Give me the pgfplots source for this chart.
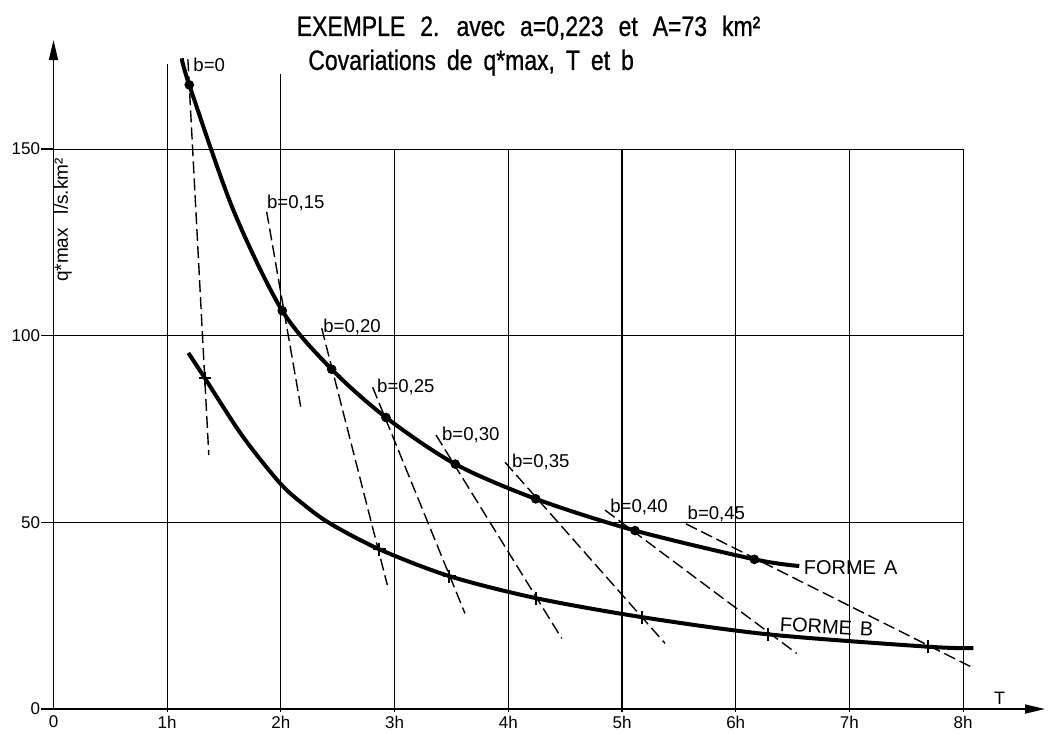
\documentclass[border=0pt]{standalone}
\usepackage{fontspec}
\setmainfont{Liberation Sans}
\newfontfamily\condfont[FakeStretch=0.82,FakeBold=0.8]{Liberation Sans}
\usepackage{pgfplots}
\pgfplotsset{compat=1.18}
\usetikzlibrary{arrows.meta}

\begin{document}
\begin{tikzpicture}
\begin{axis}[
  x=56.85pt, y=1.8665pt,
  xmin=0, xmax=8.72, ymin=0, ymax=179.2,
  axis lines=left,
  axis line style={line width=0.8pt, -{Triangle[length=10pt,width=4.5pt]}},
  clip=false,
  xtick={0,1,...,8}, xticklabels={0,1h,2h,3h,4h,5h,6h,7h,8h},
  ytick={0,50,100,150}, yticklabels={0,50,100,150},
  tick align=outside,
  major tick length=6pt,
  xtick style={draw=none},
  ytick style={line width=0.6pt, black},
  ticklabel style={font=\fontsize{8.5}{10}\selectfont},
  xticklabel style={inner sep=0pt, yshift=2.8pt},
  yticklabel style={inner sep=0.5pt},
]
% bounding coordinates
\coordinate (BL) at (axis cs:-0.4705,-6.697);
\coordinate (TR) at (axis cs:8.764,189.93);

% grid
\draw[line width=0.55pt] (axis cs:0,50) -- (axis cs:8,50);
\draw[line width=0.55pt] (axis cs:0,100) -- (axis cs:8,100);
\draw[line width=0.55pt] (axis cs:0,150) -- (axis cs:8,150);
\draw[line width=0.55pt] (axis cs:1,-0.8) -- (axis cs:1,172.9);
\draw[line width=0.55pt] (axis cs:2,-0.8) -- (axis cs:2,170);
\draw[line width=0.55pt] (axis cs:3,-0.8) -- (axis cs:3,150);
\draw[line width=0.55pt] (axis cs:4,-0.8) -- (axis cs:4,150);
\draw[line width=0.55pt] (axis cs:5,-0.8) -- (axis cs:5,150);
\draw[line width=0.55pt] (axis cs:6,-0.8) -- (axis cs:6,150);
\draw[line width=0.55pt] (axis cs:7,-0.8) -- (axis cs:7,150);
\draw[line width=0.55pt] (axis cs:8,-0.8) -- (axis cs:8,150);

% dashed b lines
\addplot[line width=0.7pt, dash pattern=on 6pt off 2.5pt] coordinates {(1.182,174) (1.366,68)};
\addplot[line width=0.7pt, dash pattern=on 6pt off 2.5pt] coordinates {(1.875,133.2) (2.174,81.0)};
\addplot[line width=0.7pt, dash pattern=on 6pt off 2.5pt] coordinates {(2.359,102.0) (2.936,33.2)};
\addplot[line width=0.7pt, dash pattern=on 6pt off 2.5pt] coordinates {(2.807,86.2) (3.619,25.6)};
\addplot[line width=0.7pt, dash pattern=on 6pt off 2.5pt] coordinates {(3.364,73.4) (4.470,18.9)};
\addplot[line width=0.7pt, dash pattern=on 6pt off 2.5pt] coordinates {(3.971,66.1) (5.378,17.6)};
\addplot[line width=0.7pt, dash pattern=on 6pt off 2.5pt] coordinates {(4.850,53.3) (6.536,14.9)};
\addplot[line width=0.7pt, dash pattern=on 6pt off 2.5pt] coordinates {(5.563,49.6) (8.076,11.2)};

% Forme A
\addplot[line width=2pt, smooth] coordinates {
 (1.128,174.3) (1.194,167.2) (1.581,133.7) (2.012,106.7) (2.447,91.0)
 (2.924,78.1) (3.534,65.6) (4.241,56.3) (5.114,47.8) (6.164,40.1) (6.559,38.3)};
% Forme B
\addplot[line width=2pt, smooth] coordinates {
 (1.186,95.4) (1.332,88.6) (1.66,73.2) (1.992,60.5) (2.2,54.8) (2.432,49.7)
 (2.865,42.8) (3.481,35.6) (4.244,29.7) (5.178,24.6) (6.287,20.0) (7.689,16.7) (8.090,16.3)};

% dots on Forme A
\addplot[only marks, mark=*, mark size=2.2pt] coordinates {
 (1.194,167.2) (2.012,106.7) (2.447,91.0) (2.924,78.1) (3.534,65.6)
 (4.241,56.3) (5.114,47.8) (6.164,40.1)};
% crosses on Forme B
\addplot[only marks, mark=+, mark size=3.2pt, mark options={line width=1.1pt}] coordinates {
 (1.332,88.6) (2.865,42.8) (3.481,35.6) (4.244,29.7) (5.178,24.6) (6.287,20.0) (7.689,16.7)};

% b labels
\begin{scope}[every node/.style={anchor=west, inner sep=0pt, font=\fontsize{9.3}{10}\selectfont}]
\node at (axis cs:1.227,172.5) {b=0};
\node at (axis cs:1.875,135.5) {b=0,15};
\node at (axis cs:2.370,102.4) {b=0,20};
\node at (axis cs:2.843,86.3) {b=0,25};
\node at (axis cs:3.414,73.4) {b=0,30};
\node at (axis cs:4.030,66.2) {b=0,35};
\node at (axis cs:4.894,54.2) {b=0,40};
\node at (axis cs:5.574,52.3) {b=0,45};
\end{scope}

\node[font=\fontsize{10}{12}\selectfont] at (axis cs:7.01,38.0) {FORME\hspace{4pt}A};
\node[font=\fontsize{10}{12}\selectfont, rotate=-3] at (axis cs:6.80,22.0) {FORME\hspace{4pt}B};
\node[anchor=base, inner sep=0pt, font=\fontsize{9}{10}\selectfont] at (axis cs:8.32,1.2) {T};
\node[rotate=90, inner sep=0pt, font=\fontsize{9.5}{10}\selectfont] at (axis cs:0.084,131) {q*max\hspace{7pt}l/s.km²};

% titles
\node[anchor=base, inner sep=0pt, font=\condfont\fontsize{14}{16}\selectfont] at (axis cs:4.178,180.3)
  {\spaceskip=7.5pt EXEMPLE 2. avec a=0,223 et A=73 km²};
\node[anchor=base west, inner sep=0pt, font=\condfont\fontsize{14}{16}\selectfont] at (axis cs:2.238,171.2)
  {\spaceskip=5.5pt Covariations de q*max, T et b};
\end{axis}
\pgfresetboundingbox
\path (BL) rectangle (TR);
\end{tikzpicture}
\end{document}
